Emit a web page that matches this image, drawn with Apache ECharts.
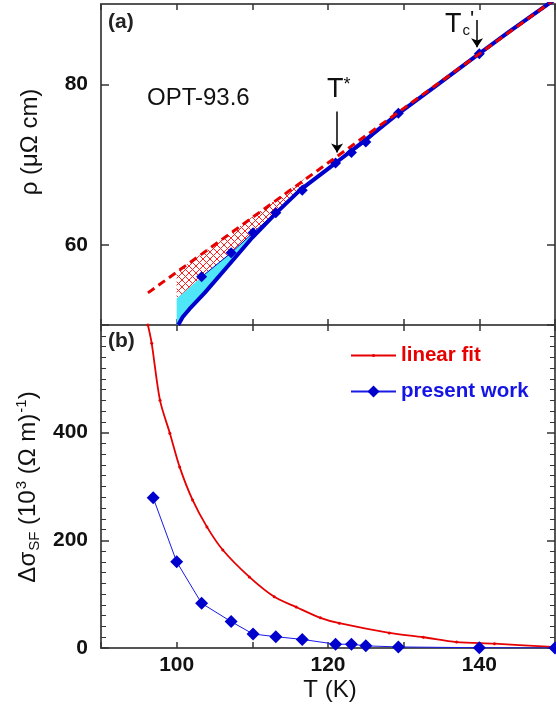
<!DOCTYPE html>
<html>
<head>
<meta charset="utf-8">
<script src="https://cdn.jsdelivr.net/npm/echarts@6/dist/echarts.min.js"></script>
<style>
  html, body { margin: 0; padding: 0; background: #fff; }
  #chart { width: 556px; height: 707px; }
</style>
</head>
<body>
<div id="chart"></div>
<script>
// panel (a): resistivity
var fitT = [96.2, 150];
var fitRho = [54.0, 90.6];
var curveT = [100.2, 100.8, 101.7, 103.7, 107, 110, 113.2, 116.3, 121.3, 125, 128.8, 134, 139.1, 144, 148.8, 150];
var curveRho = [50, 51, 52, 54, 57.6, 60.9, 64, 66.8, 70.4, 73.1, 76.0, 79.6, 83.2, 86.6, 89.8, 90.6];
// "present work" points, shared T for both panels
var ptT = [96.9, 100, 103.3, 107.2, 110.1, 113.1, 116.6, 121, 123.1, 125, 129.3, 140, 150];
var ptRho = [null, null, 56.0, 59.0, 61.5, 64.0, 66.8, 70.2, 71.5, 72.8, 76.4, 83.8, 90.4];
var ptDsig = [279, 160, 83, 49, 26, 21, 16, 7, 7, 4, 2, 0.5, 0];
// shaded regions in (a)
var cyanT = [100, 103.3, 107.2, 110.1, 113.1, 116.6];
var cyanRho = [53.3, 56.0, 59.0, 61.5, 64.0, 66.8];
var hatchT = [100, 117];
var hatchRho = [56.6, 68.3];
// arrows T* and Tc'
var arrowT = [121.2, 139.7];
var arrowTop = [76.6, 88.0];
var arrowTip = [71.5, 84.6];
// panel (b): excess conductivity from linear fit
var fitDsigT = [96.2, 96.7, 97.8, 99.1, 100.4, 102.1, 104, 106.1, 109.6, 112.9, 115.8, 119, 121.5, 128.1, 132.6, 137, 142, 149.6];
var fitDsig = [600, 566, 460, 399, 336, 275, 225, 182, 132, 95, 76, 56, 46, 28, 20, 11, 8, 2];
// tick labels
var rhoLabels = [60, 80];
var tLabels = [100, 120, 140];

var FONT = 'Liberation Sans, Arial, sans-serif';
var FRAME = '#555';

function pairs(xs, ys) {
  var out = [];
  for (var i = 0; i < xs.length; i++) {
    if (ys[i] != null) out.push([xs[i], ys[i]]);
  }
  return out;
}

// crosshatch pattern
var hatchCanvas = document.createElement('canvas');
hatchCanvas.width = 7; hatchCanvas.height = 7;
(function () {
  var c = hatchCanvas.getContext('2d');
  c.strokeStyle = '#ff2020';
  c.lineWidth = 1;
  c.beginPath();
  c.moveTo(0, 0); c.lineTo(7, 7);
  c.moveTo(7, 0); c.lineTo(0, 7);
  c.stroke();
})();

function polygonRender(upT, upV, loT, loV, fill) {
  return function (params, api) {
    var pts = [];
    for (var i = 0; i < upT.length; i++) pts.push(api.coord([upT[i], upV[i]]));
    for (var j = loT.length - 1; j >= 0; j--) pts.push(api.coord([loT[j], loV[j]]));
    return { type: 'polygon', shape: { points: pts }, style: { fill: fill, stroke: null } };
  };
}

// lower edge of cyan = data curve up to where the region closes
var cyanLowT = [], cyanLowRho = [];
curveT.forEach(function (t, i) {
  if (t <= 116.6) { cyanLowT.push(t); cyanLowRho.push(curveRho[i]); }
});
cyanLowT.unshift(100); cyanLowRho.unshift(50);

function xAx(grid, pos, labels) {
  return {
    gridIndex: grid, type: 'value', position: pos, min: 90, max: 150, interval: 10,
    axisLine: { onZero: false, lineStyle: { color: FRAME, width: 2 } },
    axisTick: { inside: true, length: 6, lineStyle: { color: '#333', width: 1.5 } },
    axisLabel: labels ? {
      customValues: tLabels, margin: 7, color: '#111',
      fontSize: 21, fontWeight: 'bold', fontFamily: FONT
    } : { show: false },
    splitLine: { show: false }
  };
}

function legendRow(name, color, top, h) {
  return {
    left: 345, top: top, selectedMode: false,
    itemWidth: 45, itemHeight: h,
    textStyle: { fontSize: 20.5, fontWeight: 'bold', fontFamily: FONT, color: color },
    data: [name]
  };
}

var option = {
  animation: false,
  backgroundColor: '#fff',
  grid: [
    { left: 101, right: 1, top: 4, height: 321 },
    { left: 101, right: 1, top: 325, bottom: 59 }
  ],
  xAxis: [xAx(0, 'bottom', false), xAx(0, 'top', false), xAx(1, 'bottom', true), xAx(1, 'top', false)],
  yAxis: [
    {
      gridIndex: 0, type: 'value', position: 'left', min: 50, max: 90,
      axisLine: { onZero: false, lineStyle: { color: FRAME, width: 2 } },
      axisTick: { inside: true, length: 8, customValues: rhoLabels, lineStyle: { color: '#333', width: 1.5 } },
      axisLabel: { customValues: rhoLabels, margin: 13, color: '#111', fontSize: 21, fontWeight: 'bold', fontFamily: FONT },
      splitLine: { show: false }
    },
    {
      gridIndex: 0, type: 'value', position: 'right', min: 50, max: 90,
      axisLine: { onZero: false, lineStyle: { color: FRAME, width: 2 } },
      axisTick: { inside: true, length: 8, customValues: rhoLabels, lineStyle: { color: '#333', width: 1.5 } },
      axisLabel: { show: false },
      splitLine: { show: false }
    },
    {
      gridIndex: 1, type: 'value', position: 'left', min: 0, max: 600, interval: 200,
      axisLine: { onZero: false, lineStyle: { color: FRAME, width: 2 } },
      axisTick: { inside: true, length: 8, lineStyle: { color: '#333', width: 1.5 } },
      minorTick: { show: true, splitNumber: 10, length: 5, lineStyle: { color: '#333', width: 1 } },
      axisLabel: { showMaxLabel: false, margin: 13, color: '#111', fontSize: 21, fontWeight: 'bold', fontFamily: FONT },
      splitLine: { show: false }
    },
    {
      gridIndex: 1, type: 'value', position: 'right', min: 0, max: 600, interval: 200,
      axisLine: { onZero: false, lineStyle: { color: FRAME, width: 2 } },
      axisTick: { inside: true, length: 8, lineStyle: { color: '#333', width: 1.5 } },
      minorTick: { show: true, splitNumber: 10, length: 5, lineStyle: { color: '#333', width: 1 } },
      axisLabel: { show: false },
      splitLine: { show: false }
    }
  ],
  legend: [
    legendRow('linear fit', '#e60000', 340, 4),
    legendRow('present work', '#1414e6', 376, 15)
  ],
  series: [
    {
      type: 'custom', name: 'cyan', xAxisIndex: 0, yAxisIndex: 0, silent: true, clip: true,
      renderItem: polygonRender(cyanT, cyanRho, cyanLowT, cyanLowRho, '#4fe6f8'),
      data: [[100, 50]], z: 1
    },
    {
      type: 'custom', name: 'hatch', xAxisIndex: 0, yAxisIndex: 0, silent: true, clip: true,
      renderItem: polygonRender(hatchT, hatchRho, cyanT, cyanRho, { image: hatchCanvas, repeat: 'repeat' }),
      data: [[100, 50]], z: 1
    },
    {
      type: 'line', name: 'data', xAxisIndex: 0, yAxisIndex: 0, showSymbol: false, silent: true,
      data: pairs(curveT, curveRho), lineStyle: { color: '#0000cc', width: 4 }, z: 2
    },
    {
      type: 'line', name: 'present work (a)', xAxisIndex: 0, yAxisIndex: 0, silent: true,
      symbol: 'diamond', symbolSize: 11,
      data: pairs(ptT, ptRho),
      itemStyle: { color: '#0000cc' }, lineStyle: { color: '#0000cc', width: 1 }, z: 3
    },
    {
      type: 'line', name: 'fit (a)', xAxisIndex: 0, yAxisIndex: 0, showSymbol: false, silent: true,
      data: pairs(fitT, fitRho),
      lineStyle: { color: '#e60000', width: 3, type: [8, 5] }, z: 4,
      markLine: {
        silent: true, symbol: ['none', 'arrow'], symbolSize: 9,
        label: { show: false },
        lineStyle: { color: '#000', width: 1.5, type: 'solid' },
        data: arrowT.map(function (t, i) {
          return [{ coord: [t, arrowTop[i]] }, { coord: [t, arrowTip[i]] }];
        })
      }
    },
    {
      type: 'line', name: 'linear fit', xAxisIndex: 2, yAxisIndex: 2, silent: true,
      symbol: 'circle', symbolSize: 3, smooth: 0.3,
      data: pairs(fitDsigT, fitDsig),
      itemStyle: { color: '#e60000' }, lineStyle: { color: '#e60000', width: 1.8 }, z: 3
    },
    {
      type: 'line', name: 'present work', xAxisIndex: 2, yAxisIndex: 2, silent: true,
      symbol: 'diamond', symbolSize: 13,
      data: pairs(ptT, ptDsig),
      itemStyle: { color: '#0000cc' }, lineStyle: { color: '#1a1ae6', width: 1 }, z: 4
    }
  ]
};

var chart = echarts.init(document.getElementById('chart'), null, { renderer: 'canvas' });
chart.setOption(option);

// text annotations anchored on the arrows
var star = chart.convertToPixel({ gridIndex: 0 }, [arrowT[0], arrowTop[0]]);
var tcp = chart.convertToPixel({ gridIndex: 0 }, [arrowT[1], arrowTop[1]]);

chart.setOption({
  graphic: [
    { type: 'text', left: 108, top: 12, style: { text: '(a)', fontSize: 21, fontWeight: 'bold', fontFamily: FONT, fill: '#222' } },
    { type: 'text', left: 108, top: 331, style: { text: '(b)', fontSize: 21, fontWeight: 'bold', fontFamily: FONT, fill: '#222' } },
    { type: 'text', x: 147, y: 98, style: { text: 'OPT-93.6', fontSize: 24, fontFamily: FONT, fill: '#111', verticalAlign: 'middle' } },
    {
      type: 'text', x: star[0] - 10, y: star[1] - 22,
      style: {
        text: '{t|T}{s|*}', verticalAlign: 'middle', fill: '#111',
        rich: {
          t: { fontSize: 27, fontFamily: FONT, fill: '#111' },
          s: { fontSize: 18, fontFamily: FONT, fill: '#111', padding: [0, 0, 10, 0] }
        }
      }
    },
    {
      type: 'text', x: tcp[0] - 32, y: tcp[1] + 4,
      style: {
        text: '{t|T}{c|c}{p|\'}', verticalAlign: 'middle', fill: '#111',
        rich: {
          t: { fontSize: 27, fontFamily: FONT, fill: '#111' },
          c: { fontSize: 15, fontFamily: FONT, fill: '#111', padding: [14, 0, 0, 1] },
          p: { fontSize: 22, fontFamily: FONT, fill: '#111', padding: [0, 0, 8, 0] }
        }
      }
    },
    {
      type: 'text', x: 30, y: 142, rotation: Math.PI / 2,
      style: { text: 'ρ (μΩ cm)', fontSize: 24, fontFamily: FONT, fill: '#111', align: 'center', verticalAlign: 'middle' }
    },
    {
      type: 'text', x: 28, y: 487, rotation: Math.PI / 2,
      style: {
        text: '{n|Δσ}{s|SF}{n| (10}{p|3}{n| (Ω m)}{p|-1}{n|)}',
        align: 'center', verticalAlign: 'middle', fill: '#111',
        rich: {
          n: { fontSize: 24, fontFamily: FONT, fill: '#111' },
          s: { fontSize: 15, fontFamily: FONT, fill: '#111', padding: [14, 0, 0, 1] },
          p: { fontSize: 15, fontFamily: FONT, fill: '#111', padding: [0, 0, 12, 1] }
        }
      }
    },
    { type: 'text', x: 330, y: 690, style: { text: 'T (K)', fontSize: 24, fontFamily: FONT, fill: '#111', align: 'center', verticalAlign: 'middle' } }
  ]
});
</script>
</body>
</html>
